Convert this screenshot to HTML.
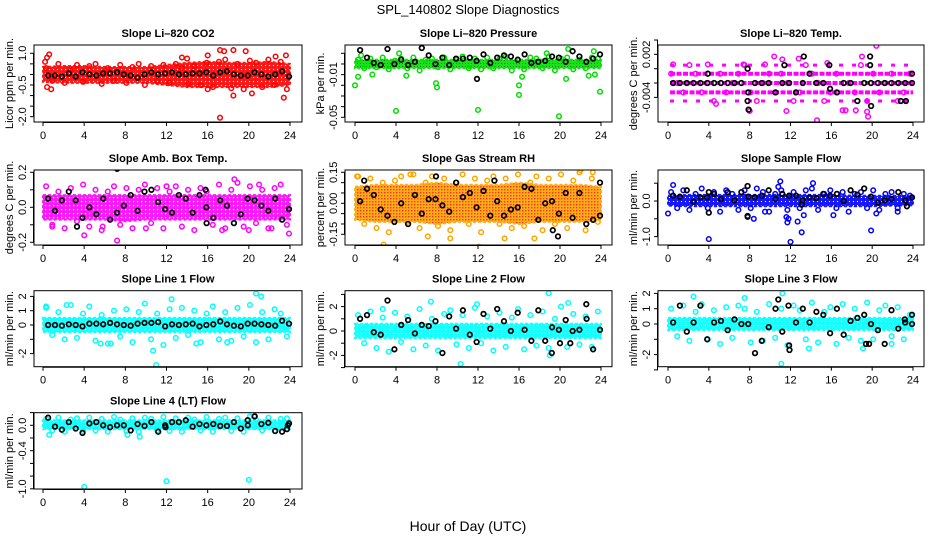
<!DOCTYPE html>
<html><head><meta charset="utf-8"><style>
html,body{margin:0;padding:0;background:#fff;}
svg{display:block;font-family:"Liberation Sans",sans-serif;}
</style></head><body>
<svg id="chart" width="936" height="540" viewBox="0 0 936 540">
<defs>
<pattern id="rhPat" width="3" height="3" patternUnits="userSpaceOnUse"><rect width="3" height="3" fill="#ffa500"/><rect width="1.4" height="1.4" fill="#ff2000"/></pattern>
<pattern id="prPat" width="3" height="3" patternUnits="userSpaceOnUse"><rect width="3" height="3" fill="#00e000"/><rect width="1" height="1" fill="#106010"/></pattern>
<pattern id="redPat" width="4" height="4" patternUnits="userSpaceOnUse"><rect width="4" height="4" fill="#ff0000"/><rect x="1" y="1" width="1" height="1" fill="#fff"/></pattern>
<pattern id="magPat" width="4" height="4" patternUnits="userSpaceOnUse"><rect width="4" height="4" fill="#ff00ff"/><rect x="1" y="1" width="1.2" height="1.2" fill="#fff"/></pattern>
<pattern id="bluePat" width="4" height="4" patternUnits="userSpaceOnUse"><rect width="4" height="4" fill="#0000ff"/><rect x="1" y="1" width="1" height="1" fill="#fff"/></pattern>
<pattern id="cyanPat" width="4" height="4" patternUnits="userSpaceOnUse"><rect width="4" height="4" fill="#00ffff"/><rect x="1" y="1" width="1" height="1" fill="#fff"/></pattern>
</defs>
<text x="468" y="14" text-anchor="middle" font-size="13">SPL_140802  Slope Diagnostics</text>
<text x="468" y="531" text-anchor="middle" font-size="14">Hour of Day (UTC)</text>
</svg>
<script>
// ---- data ----
const xTicks=[0,4,8,12,16,20,24];
const bandHours=[0,2,4,6,8,10,12,14,16,18,20,22,24];
// CO2
const co2Lo=[-0.35,-0.4,-0.4,-0.4,-0.4,-0.4,-0.5,-0.6,-0.6,-0.6,-0.6,-0.6,-0.5];
const co2Hi=[0.35,0.4,0.4,0.35,0.35,0.35,0.45,0.55,0.6,0.55,0.55,0.6,0.5];
const co2Col=[0.3,-0.3,0.5,-0.4,0.2,0.45,-0.35,0.4,0.5,-0.45,0.3,-0.3,0.45,-0.4,0.35,0.5,-0.5,0.4,-0.3,0.45,-0.4,0.5,0.3,-0.45,0.4,-0.5,0.55,-0.6,0.6,0.7,-0.65,0.5,-0.7,0.65,0.55,-0.6,0.7,-0.5,0.6,-0.7];
const co2Blk=[-0.05,-0.05,-0.1,0.05,-0.1,0.1,0.0,-0.05,0.05,0.05,0.1,0.0,-0.05,-0.15,0.0,0.1,0.0,0.05,0.1,0.0,0.0,0.05,0.05,0.1,-0.05,0.1,0.15,0.0,-0.05,-0.05,0.1,0.0,-0.1,0.0,0.15,-0.1];
const co2Out=[[0.2,0.6],[0.4,0.8],[0.6,0.95],[0.4,-0.6],[0.8,-0.7],[13.5,0.8],[14,0.75],[16,0.9],[17.2,1.15],[17.6,1.1],[18.5,1.15],[19.7,1.1],[17.2,-2.05],[18.5,-1.0],[20.3,-0.9],[23.4,-1.1],[22.6,0.85],[23.6,0.9],[16,-0.7]];
const co2BlkOut=[];
// Pressure
const prLo=[-0.004,-0.004,-0.004,-0.004,-0.004,-0.004,-0.004,-0.004,-0.004,-0.004,-0.004,-0.004,-0.004];
const prHi=[0.004,0.004,0.004,0.004,0.004,0.004,0.004,0.004,0.004,0.004,0.004,0.004,0.004];
const prCol=[0.004,-0.004,0.005,-0.003,0.006,-0.005,0.003,0.005,-0.004,0.006,-0.006,0.004,0.005,-0.003,0.006,-0.005,0.004,0.007,-0.004,0.005,-0.005,0.006,-0.004,0.005,0.007,-0.006,0.004,-0.005,0.006,0.005,-0.004,0.007,-0.006,0.005,0.006,-0.005,0.004,-0.004,0.006,0.005];
const prBlk=[0.013,0.006,0.001,-0.001,0.014,0.0,0.004,-0.001,0.002,0.015,0.008,0.0,0.006,-0.001,0.005,0.005,0.006,0.003,0.009,0.001,0.006,0.008,0.007,0.004,0.009,0.001,0.002,0.003,0.007,0.006,0.002,0.012,0.007,0.002,0.005,0.009];
const prOut=[[0,-0.02],[0.3,-0.012],[1.7,-0.01],[4,-0.044],[5,-0.011],[7.9,-0.018],[8,-0.022],[12,-0.043],[16,-0.02],[16,-0.029],[16.3,-0.012],[19.9,-0.049],[20.6,-0.014],[22.8,-0.011],[23.4,-0.01],[23.9,-0.026],[0.6,0.008],[4.3,0.01],[18.7,0.01],[20.8,0.014],[23.3,0.012]];
const prBlkOut=[[11.9,-0.014]];
// Li-820 temp
const tpLo=[-0.0036,-0.0036,-0.0036,-0.0036,-0.0036,-0.0036,-0.0046,-0.0046,-0.0046,-0.0046,-0.0046,-0.0036,-0.0036];
const tpHi=[-0.0005,-0.0005,-0.0005,-0.0005,-0.0005,-0.0005,0.0006,0.0006,0.0006,0.0006,0.0006,-0.0005,-0.0005];
const tpCol=[-0.0007,-0.002,-0.0033,0.0005,-0.0007,-0.0033,-0.002,-0.0045,-0.0007,-0.0033,-0.002,-0.0007,0.0005,-0.0033,-0.0045,-0.002,-0.0007,-0.0033,-0.0007,-0.002,-0.0045,-0.0033,0.0005,-0.0007,-0.002,-0.0045,-0.0033,-0.0007,-0.0058,-0.002,-0.0033,0.0005,-0.0045,-0.0007,-0.0033,-0.002,-0.0007,-0.0045,-0.0033,-0.0007];
const tpBlk=[-0.002,-0.002,-0.002,-0.002,-0.002,-0.002,-0.002,-0.002,-0.002,-0.002,-0.002,-0.0033,-0.002,-0.002,-0.002,-0.0033,-0.002,-0.002,-0.0033,-0.002,-0.0007,-0.002,-0.002,-0.0028,-0.0033,-0.002,-0.002,-0.0045,-0.002,-0.002,-0.002,-0.002,-0.002,-0.002,-0.002,-0.002];
const tpOut=[[0.5,0.0006],[3.9,0.0006],[7.4,0.0006],[9.5,0.0006],[10.4,0.0017],[11.2,0.0013],[12.8,0.0014],[19,0.0017],[20.4,0.0032],[15.6,0.0008],[4.7,-0.0049],[8,-0.0059],[11.6,-0.0059],[14.6,-0.0072],[19.6,-0.0067],[17.4,-0.0058],[18.4,-0.0058],[19.5,-0.006]];
const tpBlkOut=[[7.9,-0.0057],[7.8,-0.0045],[7.8,0.0],[13.3,0.0017],[11.4,0.0005],[15.8,0.0005],[19.8,0.0017],[19.8,0.0005],[19.9,-0.0052],[22.8,-0.0045],[23.3,-0.0045],[23.9,-0.0007],[3.9,-0.0007]];
// Amb box temp
const abLo=[-0.07,-0.07,-0.07,-0.07,-0.08,-0.07,-0.07,-0.07,-0.07,-0.07,-0.07,-0.07,-0.07];
const abHi=[0.07,0.07,0.07,0.07,0.07,0.07,0.07,0.07,0.07,0.07,0.07,0.07,0.07];
const abCol=[0.12,-0.1,0.09,-0.12,0.11,-0.08,0.13,-0.11,0.1,-0.13,0.09,0.12,-0.1,0.11,-0.12,0.1,0.13,-0.09,0.11,-0.12,0.09,0.12,-0.11,0.1,-0.13,0.11,0.09,-0.1,0.13,-0.12,0.1,0.14,-0.11,0.12,-0.09,0.1,-0.12,0.11,0.13,-0.1];
const abBlk=[0.05,-0.02,0.04,0.09,0.04,-0.06,0.0,-0.04,0.05,-0.07,-0.03,0.01,0.07,-0.02,0.09,0.1,0.03,-0.01,-0.03,0.07,0.05,-0.03,0.07,0.0,-0.06,0.04,0.01,-0.09,-0.04,0.05,0.04,0.01,-0.02,0.05,-0.07,-0.01];
const abOut=[[7.2,-0.19],[4,-0.16],[0.9,-0.11],[18.6,0.16],[23.9,-0.15],[17.4,-0.13],[10,-0.12],[12,0.12],[20,-0.13],[21,0.13],[5.8,-0.11],[22.2,-0.12]];
const abBlkOut=[[7.2,0.22],[3.3,-0.11],[15.9,-0.09],[15.8,0.1]];
// Gas stream RH
const rhLo=[-0.08,-0.09,-0.09,-0.09,-0.1,-0.09,-0.09,-0.09,-0.1,-0.09,-0.09,-0.09,-0.08];
const rhHi=[0.08,0.09,0.09,0.09,0.1,0.09,0.09,0.09,0.1,0.09,0.09,0.09,0.08];
const rhCol=[0.13,-0.1,0.12,-0.12,0.1,-0.14,0.11,0.13,-0.09,0.14,-0.12,0.1,0.13,-0.11,0.12,-0.13,0.1,0.14,-0.1,0.12,-0.14,0.11,0.13,-0.1,0.12,-0.12,0.14,-0.11,0.1,0.13,-0.13,0.12,-0.1,0.14,-0.12,0.11,0.15,-0.13,0.12,-0.09];
const rhBlk=[0.01,0.07,0.04,-0.03,-0.06,-0.09,0.0,-0.1,0.04,-0.05,0.02,0.02,-0.01,-0.04,0.1,0.03,0.05,-0.02,0.06,-0.06,0.01,-0.06,-0.03,-0.02,0.08,0.07,-0.08,0.0,0.01,-0.05,0.05,-0.07,0.05,-0.1,-0.08,-0.06];
const rhOut=[[2.8,-0.2],[12.1,-0.21],[7.1,-0.16],[9.3,-0.17],[17.5,-0.17],[22,0.16],[23.2,0.15],[14.6,-0.17],[5.4,0.14],[0.2,0.13]];
const rhBlkOut=[[7.9,0.13],[19.8,-0.16],[19.3,-0.13],[13.6,0.11],[23.9,0.1],[0.9,0.11]];
// Sample flow
const sfLo=[-0.13,-0.15,-0.15,-0.15,-0.15,-0.15,-0.15,-0.15,-0.15,-0.15,-0.15,-0.13,-0.12];
const sfHi=[0.15,0.17,0.17,0.17,0.17,0.17,0.17,0.17,0.17,0.15,0.15,0.15,0.13];
const sfCol=[0.25,-0.2,0.3,-0.25,0.2,0.35,-0.2,0.25,-0.3,0.3,0.2,-0.25,0.3,-0.2,0.35,0.25,-0.3,0.2,0.3,-0.25,0.25,-0.2,0.3,0.35,-0.25,0.2,0.3,-0.2,0.25,-0.3,0.2,0.25,-0.2,0.3,-0.25,0.2,0.25,-0.2,0.2,0.15];
const sfBlk=[0.15,0.12,0.3,-0.02,0.1,0.1,0.2,0.05,0.25,0.02,0.25,0.12,0.1,0.15,0.3,0.05,0.2,0.15,0.15,0.02,0.1,0.08,0.2,0.15,0.2,0.0,0.3,0.18,0.35,0.12,-0.05,0.02,0.05,0.25,0.02,0.1];
const sfOut=[[0,-0.35],[0.5,0.45],[4,-1.07],[7.8,-0.45],[8.4,-0.5],[9.5,-0.3],[11,0.55],[11.6,-0.45],[11.7,-0.6],[12,-1.15],[12.7,-0.58],[13.1,-0.88],[13.3,1.45],[13.3,-0.4],[14.2,0.5],[16.2,-0.4],[19.9,-0.83],[20.4,-0.35],[22.5,-0.3],[11.8,-0.5],[10.8,0.4]];
const sfBlkOut=[[4,-0.33],[7.8,-0.42],[13.1,-0.1],[23.4,-0.15],[7.8,0.42],[4,0.25]];
// Line 1 flow
const l1Lo=[-0.5,-0.5,-0.5,-0.5,-0.5,-0.5,-0.5,-0.5,-0.5,-0.5,-0.5,-0.5,-0.5];
const l1Hi=[0.5,0.5,0.5,0.5,0.5,0.5,0.5,0.5,0.5,0.5,0.5,0.5,0.5];
const l1Col=[1.2,-0.7,0.9,-1.0,1.4,-0.9,0.8,1.3,-1.1,0.7,-1.3,1.0,-0.8,1.1,-1.2,0.9,1.5,-1.0,0.8,-1.4,1.1,-0.9,1.2,-0.7,1.0,-1.2,0.8,1.3,-1.0,0.9,-1.1,1.2,-0.8,1.4,-1.2,0.9,-1.0,1.1,0.8,-0.8];
const l1Blk=[0.0,0.0,-0.05,0.05,0.0,-0.1,0.1,0.1,0.05,0.15,0.05,0.0,-0.05,0.1,0.15,0.15,0.2,-0.1,0.05,0.0,0.05,0.1,-0.1,0.0,0.05,0.25,0.05,-0.05,-0.1,0.1,0.1,0.05,0.0,-0.05,0.3,0.1];
const l1Out=[[11,-2.8],[20.7,2.2],[21.2,2.0],[10.7,-1.8],[5.6,-1.3],[6.6,-1.3],[12.5,1.8],[2.3,1.4],[0.3,1.3],[17.9,-1.2],[14.9,-1.3]];
const l1BlkOut=[];
// Line 2 flow
const l2Lo=[-0.6,-0.6,-0.6,-0.6,-0.6,-0.6,-0.6,-0.6,-0.6,-0.6,-0.6,-0.6,-0.6];
const l2Hi=[0.6,0.6,0.6,0.6,0.6,0.6,0.6,0.6,0.6,0.6,0.6,0.6,0.6];
const l2Col=[1.3,-1.0,1.6,-1.4,1.1,-1.7,1.5,-0.9,1.2,-1.5,1.8,-1.2,1.0,-1.6,1.4,1.7,-1.1,1.3,-1.4,1.9,-1.0,1.2,-1.6,1.5,-1.3,1.1,1.8,-1.5,1.3,-1.2,1.6,-1.4,1.0,2.0,-1.3,1.4,-1.1,1.2,-1.3,1.6];
const l2Blk=[1.0,1.3,-0.1,-0.3,2.5,-1.5,0.5,0.9,-0.2,0.5,0.4,0.8,-1.8,1.2,0.2,1.7,-0.3,-0.9,1.4,0.2,1.8,0.8,0.0,1.5,0.1,-0.8,1.7,-0.8,0.3,0.1,0.9,0.0,0.1,2.2,-1.5,0.1];
const l2Out=[[10.3,-2.7],[18.9,3.1],[19,-2.0],[2.7,1.8],[7.4,2.4],[20.8,2.3],[11.9,2.2]];
const l2BlkOut=[[19.2,-1.8],[20.0,-1.0],[21.0,-1.0],[22.6,1.0]];
// Line 3 flow
const l3Lo=[-0.4,-0.4,-0.4,-0.4,-0.4,-0.4,-0.4,-0.4,-0.4,-0.4,-0.4,-0.4,-0.4];
const l3Hi=[0.4,0.4,0.4,0.4,0.4,0.4,0.4,0.4,0.4,0.4,0.4,0.4,0.4];
const l3Col=[1.0,-0.8,1.2,-1.1,0.8,1.3,-1.0,0.9,-1.3,1.1,-0.9,1.2,1.0,-1.2,0.8,-1.1,1.3,-0.9,1.0,-1.4,1.2,0.9,-1.0,1.4,-1.2,0.8,1.1,-1.3,1.3,-0.9,1.0,-1.1,1.4,-1.0,0.9,1.2,-0.8,1.1,-1.0,0.6];
const l3Blk=[0.1,1.2,-0.5,0.1,1.2,-1.0,0.1,0.2,-0.4,0.3,0.0,0.0,-1.9,-1.1,-0.2,1.0,-0.5,-1.4,0.1,1.0,0.1,0.8,0.6,-0.6,1.0,-0.7,0.2,0.4,0.6,0.0,-0.4,-1.3,0.9,-0.3,0.1,0.6];
const l3Out=[[11.1,-2.6],[11.2,2.0],[2.5,1.8],[7.5,1.7],[19.1,-1.6],[21.9,-1.3],[13.8,-1.6]];
const l3BlkOut=[[10.8,1.6],[11.9,-1.7],[11.8,1.2],[19.7,-1.3],[19.4,-1.3],[23.2,0.3],[23.9,0.0]];
// Line 4 (LT) flow
const l4Lo=[-0.06,-0.06,-0.06,-0.06,-0.06,-0.06,-0.06,-0.06,-0.06,-0.06,-0.06,-0.06,-0.06];
const l4Hi=[0.08,0.08,0.08,0.08,0.08,0.08,0.08,0.08,0.08,0.08,0.08,0.08,0.08];
const l4Col=[0.1,-0.08,0.12,-0.1,0.09,0.11,-0.09,0.12,-0.08,0.1,-0.1,0.13,0.09,-0.09,0.11,-0.1,0.12,0.1,-0.08,0.13,-0.09,0.11,-0.1,0.12,0.09,-0.08,0.13,-0.1,0.1,0.12,-0.09,0.11,-0.1,0.14,0.09,-0.08,0.12,-0.09,0.1,0.11];
const l4Blk=[0.12,-0.02,-0.07,0.05,-0.05,-0.12,0.03,0.05,0.0,-0.03,0.0,0.0,-0.08,0.02,-0.01,0.05,-0.1,0.0,0.05,0.05,0.08,-0.02,0.02,0.0,0.02,-0.01,-0.01,0.05,-0.05,0.08,0.14,0.02,0.04,-0.09,-0.1,0.03];
const l4Out=[[4,-0.97],[12,-0.88],[20,-0.86],[9.4,-0.18],[0.6,-0.15],[8.2,-0.15],[20.6,0.15]];
const l4BlkOut=[[23.8,0.0],[23.7,-0.06],[19.9,0.0],[11.9,-0.03]];

// ---- layout ----
const colBox=[[34,302,43,290],[345,612,355,601],[658,924,668,913]];
const rowBox=[[45,122],[170,245],[290.7,366.7],[412.7,489]];
const NS='http://www.w3.org/2000/svg';
const svg=document.getElementById('chart');
function mk(tag,attrs,parent){const e=document.createElementNS(NS,tag);for(const k in attrs)e.setAttribute(k,attrs[k]);(parent||svg).appendChild(e);return e;}

const panels=[
 {key:'co2',title:'Slope Li–820 CO2',ylab:'Licor ppm per min.',c:0,r:0,y0:53.3,v0:1.0,k:21.13,ticks:[1,0.5,0,-0.5,-1,-1.5,-2],labels:{'1':'1.0','-0.5':'-0.5','-2':'-2.0'},col:'#ff0000',band:'url(#redPat)',lo:co2Lo,hi:co2Hi,pts:co2Col,blk:co2Blk,out:co2Out,bout:co2BlkOut},
 {key:'pressure',title:'Slope Li–820 Pressure',ylab:'kPa per min.',c:1,r:0,y0:53.3,v0:0.01,k:1067,ticks:[0.01,0,-0.01,-0.02,-0.03,-0.04,-0.05],labels:{'-0.01':'-0.01','-0.05':'-0.05'},col:'#00dd00',band:'url(#prPat)',lo:prLo,hi:prHi,pts:prCol,blk:prBlk,out:prOut,bout:prBlkOut},
 {key:'li820-temp',title:'Slope Li–820 Temp.',ylab:'degrees C per min.',c:2,r:0,y0:68.7,v0:0,k:7167,ticks:[0.004,0.002,0,-0.002,-0.004],labels:{'0.002':'0.002','-0.004':'-0.004'},col:'#ff00ff',band:'none',lo:tpLo,hi:tpHi,pts:tpCol,blk:tpBlk,out:tpOut,bout:tpBlkOut,rows:[0.0005,-0.0007,-0.002,-0.0033,-0.0045]},
 {key:'amb-box-temp',title:'Slope Amb. Box Temp.',ylab:'degrees C per min.',c:0,r:1,y0:207.3,v0:0,k:175,ticks:[0.2,0.1,0,-0.1,-0.2],labels:{'0.2':'0.2','0':'0.0','-0.2':'-0.2'},col:'#ff00ff',band:'url(#magPat)',lo:abLo,hi:abHi,pts:abCol,blk:abBlk,out:abOut,bout:abBlkOut},
 {key:'gas-stream-rh',title:'Slope Gas Stream RH',ylab:'percent per min.',c:1,r:1,y0:203.3,v0:0,k:206.7,ticks:[0.15,0.1,0.05,0,-0.05,-0.1,-0.15],labels:{'0.15':'0.15','0':'0.00','-0.15':'-0.15'},col:'#ffa500',band:'url(#rhPat)',lo:rhLo,hi:rhHi,pts:rhCol,blk:rhBlk,out:rhOut,bout:rhBlkOut},
 {key:'sample-flow',title:'Slope Sample Flow',ylab:'ml/min per min.',c:2,r:1,y0:201,v0:0,k:35.6,ticks:[0.5,0,-0.5,-1],labels:{'0':'0.0','-1':'-1.0'},col:'#0000ff',band:'url(#bluePat)',lo:sfLo,hi:sfHi,pts:sfCol,blk:sfBlk,out:sfOut,bout:sfBlkOut},
 {key:'line1-flow',title:'Slope Line 1 Flow',ylab:'ml/min per min.',c:0,r:2,y0:325,v0:0,k:14.3,ticks:[2,1,0,-1,-2],labels:{'2':'2','1':'1','0':'0','-2':'-2'},col:'#00ffff',band:'url(#cyanPat)',lo:l1Lo,hi:l1Hi,pts:l1Col,blk:l1Blk,out:l1Out,bout:l1BlkOut},
 {key:'line2-flow',title:'Slope Line 2 Flow',ylab:'ml/min per min.',c:1,r:2,y0:331,v0:0,k:12.2,ticks:[3,2,1,0,-1,-2,-3],labels:{'2':'2','0':'0','-2':'-2'},col:'#00ffff',band:'url(#cyanPat)',lo:l2Lo,hi:l2Hi,pts:l2Col,blk:l2Blk,out:l2Out,bout:l2BlkOut},
 {key:'line3-flow',title:'Slope Line 3 Flow',ylab:'ml/min per min.',c:2,r:2,y0:324,v0:0,k:15.3,ticks:[2,1,0,-1,-2,-3],labels:{'2':'2','1':'1','0':'0','-2':'-2'},col:'#00ffff',band:'url(#cyanPat)',lo:l3Lo,hi:l3Hi,pts:l3Col,blk:l3Blk,out:l3Out,bout:l3BlkOut},
 {key:'line4-flow',title:'Slope Line 4 (LT) Flow',ylab:'ml/min per min.',c:0,r:3,y0:425.3,v0:0,k:63.5,ticks:[0.2,0,-0.2,-0.4,-0.6,-0.8,-1],labels:{'0':'0.0','-0.4':'-0.4','-1':'-1.0'},col:'#00ffff',band:'url(#cyanPat)',lo:l4Lo,hi:l4Hi,pts:l4Col,blk:l4Blk,out:l4Out,bout:l4BlkOut}
];

panels.forEach(p=>{
  const [bl,br,x0,x24]=colBox[p.c];const [bt,bb]=rowBox[p.r];
  const xs=h=>x0+(x24-x0)*h/24;
  const ys=v=>p.y0-(v-p.v0)*p.k;
  const g=mk('g',{});
  
  
  const clipId='clip-'+p.key;
  const cp=mk('clipPath',{id:clipId},g);mk('rect',{x:bl,y:bt,width:br-bl,height:bb-bt},cp);
  const plot=mk('g',{'clip-path':'url(#'+clipId+')'},g);
  
  
  if(p.band!=='none'){
    let d='';bandHours.forEach((h,i)=>{d+=(i?'L':'M')+xs(h).toFixed(1)+' '+ys(p.hi[i]).toFixed(1);});
    for(let i=bandHours.length-1;i>=0;i--)d+='L'+xs(bandHours[i]).toFixed(1)+' '+ys(p.lo[i]).toFixed(1);
    const b=mk('path',{d:d+'Z',fill:p.band,stroke:p.col,'stroke-width':2,'stroke-dasharray':'3 2',opacity:0.9},plot);
    
    
  }
  if(p.rows){
    p.rows.forEach((v,ri)=>{
      const edge=(ri===0||ri===4);
      const l=mk('line',{x1:xs(0.2),x2:xs(24),y1:ys(v),y2:ys(v),stroke:p.col,'stroke-width':edge?3:4,'stroke-dasharray':edge?'4 9':'5 1.5'},plot);
      
      
    });
  }
  const dot=(h,v,color,w)=>mk('circle',{cx:xs(h).toFixed(1),cy:ys(v).toFixed(1),r:2.3,fill:'none',stroke:color,'stroke-width':w},plot);
  const n=p.pts.length;
  p.pts.forEach((v,i)=>{const c=dot((i+0.5)*24/n,v,p.col,1.5);
    
    });
  p.out.forEach(o=>{const c=dot(o[0],o[1],p.col,1.5);
    
    });
  const m=p.blk.length;
  p.blk.forEach((v,i)=>{const c=dot(0.5+i*23.4/(m-1),v,'#000',1.7);
    
    });
  p.bout.forEach(o=>{const c=dot(o[0],o[1],'#000',1.7);
    
    });
  const box=mk('rect',{x:bl,y:bt,width:br-bl,height:bb-bt,fill:'none',stroke:'#000','stroke-width':1},g);
  
  
  const xa=mk('g',{},g);
  
  
  mk('line',{x1:xs(0),x2:xs(24),y1:bb+0.5,y2:bb+0.5,stroke:'#000'},xa);
  xTicks.forEach(t=>{mk('line',{x1:xs(t),x2:xs(t),y1:bb,y2:bb+4,stroke:'#000'},xa);
    const tx=mk('text',{x:xs(t),y:bb+17,'text-anchor':'middle','font-size':11},xa);tx.textContent=t;
    
    });
  const ya=mk('g',{},g);
  
  
  const yt=p.ticks.map(ys);
  mk('line',{x1:bl-0.5,x2:bl-0.5,y1:Math.min(...yt),y2:Math.max(...yt),stroke:'#000'},ya);
  p.ticks.forEach(t=>{const y=ys(t);mk('line',{x1:bl-4,x2:bl,y1:y,y2:y,stroke:'#000'},ya);
    const lab=p.labels[String(t)];
    if(lab!==undefined){const tx=mk('text',{x:bl-8,y:y,'text-anchor':'middle','font-size':11,transform:'rotate(-90 '+(bl-8)+' '+y+')'},ya);tx.textContent=lab;
      
      }});
  const yl=mk('text',{x:bl-21,y:(bt+bb)/2,'text-anchor':'middle','font-size':11,transform:'rotate(-90 '+(bl-21)+' '+(bt+bb)/2+')'},g);yl.textContent=p.ylab;
  
  
  const tt=mk('text',{x:(bl+br)/2,y:bt-8,'text-anchor':'middle','font-size':11,'font-weight':'bold'},g);tt.textContent=p.title;
  
  
});
</script>
</body></html>
